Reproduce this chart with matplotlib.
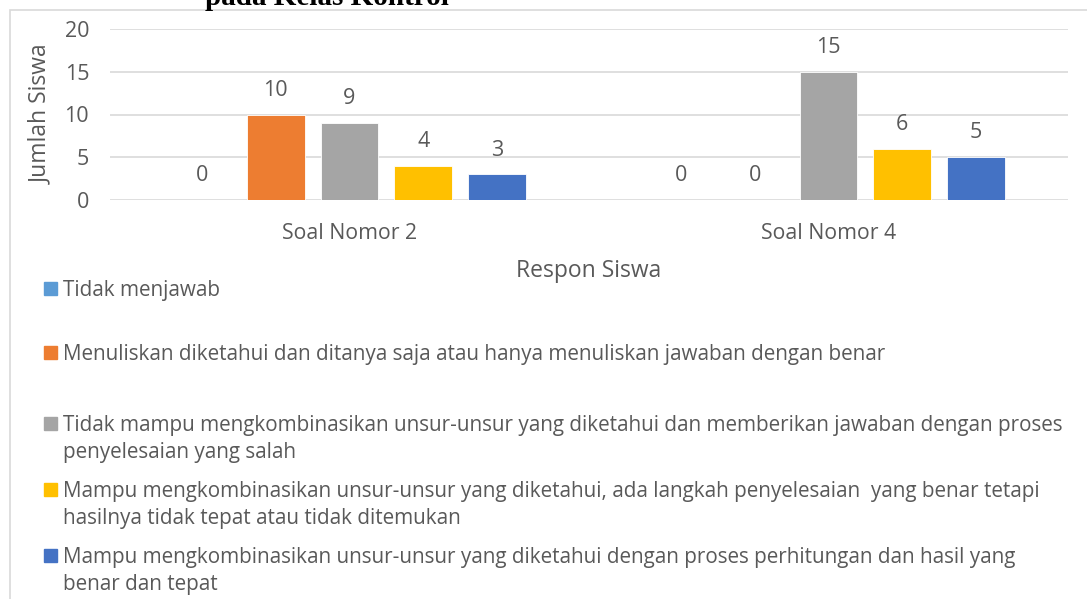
import matplotlib
matplotlib.use("Agg")
from matplotlib import pyplot as plt
from matplotlib.patches import Rectangle
import numpy as np

# data
categories = ["Soal Nomor 2", "Soal Nomor 4"]
series_names = [
    "Tidak menjawab",
    "Menuliskan diketahui dan ditanya saja atau hanya menuliskan jawaban dengan benar",
    "Tidak mampu mengkombinasikan unsur-unsur yang diketahui dan memberikan jawaban dengan proses\npenyelesaian yang salah",
    "Mampu mengkombinasikan unsur-unsur yang diketahui, ada langkah penyelesaian  yang benar tetapi\nhasilnya tidak tepat atau tidak ditemukan",
    "Mampu mengkombinasikan unsur-unsur yang diketahui dengan proses perhitungan dan hasil yang\nbenar dan tepat",
]
tidak_menjawab = [0, 0]
menuliskan = [10, 0]
tidak_mampu = [9, 15]
mampu_tidak_tepat = [4, 6]
mampu_tepat = [3, 5]
series_values = [tidak_menjawab, menuliskan, tidak_mampu, mampu_tidak_tepat, mampu_tepat]
y_ticks = [0, 5, 10, 15, 20]

colors = ["#5B9BD5", "#ED7D31", "#A5A5A5", "#FFC000", "#4472C4"]
TEXT = "#595959"
GRID = "#D9D9D9"
FONT = "Open Sans"

W, H = 1087, 599
fig = plt.figure(figsize=(W / 100, H / 100), dpi=100)


def fx(px):
    return px / W


def fy(py):
    return 1 - py / H


# outer chart border (runs off the right and bottom edges)
fig.patches.append(Rectangle((fx(10), fy(H + 20)), 1.2, fy(10) - fy(H + 20),
                             transform=fig.transFigure, fill=False,
                             edgecolor=GRID, linewidth=1.2))

# title of the page, mostly cut off above the chart
fig.text(fx(205), fy(5), "pada Kelas Kontrol", family="Liberation Serif",
         fontweight="bold", fontsize=21, color="black", va="baseline", ha="left")

ax = fig.add_axes([fx(110), fy(200), fx(1068) - fx(110), fy(29) - fy(200)])

x = np.arange(len(categories))
step = 74 / 480
width = 58 / 480
for i, (vals, col) in enumerate(zip(series_values, colors)):
    pos = x + (i - 2) * step
    bars = ax.bar(pos, vals, width=width, color=col, edgecolor="white",
                  linewidth=0.6, zorder=3)
    for b, v in zip(bars, vals):
        ax.annotate(str(v), (b.get_x() + b.get_width() / 2, v),
                    xytext=(0, 17.5), textcoords="offset points",
                    ha="center", va="center", fontsize=15.5,
                    family=FONT, color=TEXT)

ax.set_xlim(-0.5, 1.5)
ax.set_ylim(0, 20)
ax.set_yticks(y_ticks)
ax.set_xticks(x)
ax.set_xticklabels(categories)
ax.tick_params(axis="both", length=0, labelcolor=TEXT)
ax.tick_params(axis="y", pad=15, labelsize=15.5)
ax.tick_params(axis="x", pad=16.5, labelsize=15.3)
for lab in ax.get_xticklabels() + ax.get_yticklabels():
    lab.set_family(FONT)
ax.grid(axis="y", color=GRID, linewidth=1.2, zorder=0)
for s in ax.spines.values():
    s.set_visible(False)

fig.text(fx(589), fy(271), "Respon Siswa", ha="center", va="center",
         fontsize=16.5, family=FONT, color=TEXT)
fig.text(fx(41), fy(114), "Jumlah Siswa", ha="center", va="center",
         rotation=90, fontsize=16.5, family=FONT, color=TEXT)

# legend entries laid out by hand, like the spreadsheet legend
legend_rows = [288, 352, 423, 489, 555]
line_gap = 27
for name, col, row in zip(series_names, colors, legend_rows):
    fig.patches.append(Rectangle((fx(44), fy(row + 7)), fx(13), fy(row - 6) - fy(row + 7),
                                 transform=fig.transFigure, color=col))
    for k, line in enumerate(name.split("\n")):
        fig.text(fx(63), fy(row + k * line_gap), line, ha="left",
                 va="center_baseline", fontsize=14.85, family=FONT, color=TEXT)

fig.savefig("out.png", dpi=100)
